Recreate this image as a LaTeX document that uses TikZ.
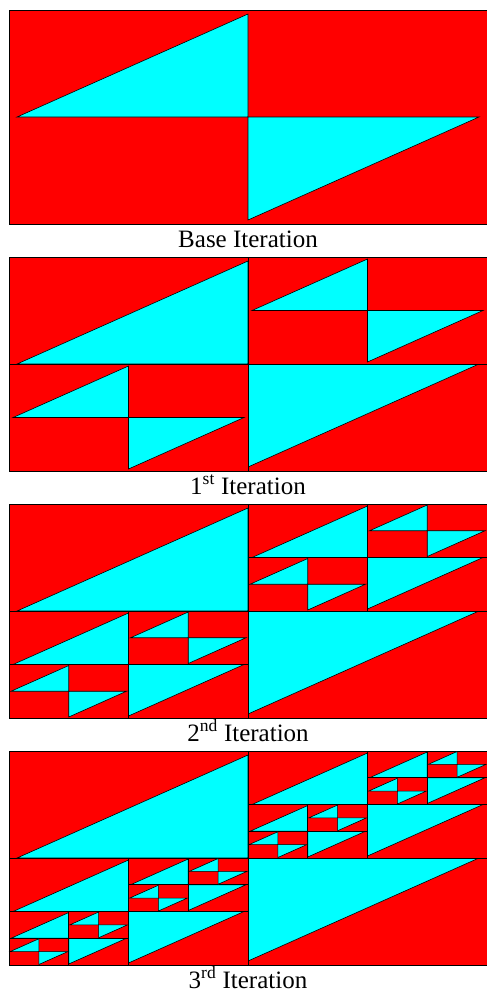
\documentclass[tikz,border=0pt]{standalone}
\usepackage{fontspec}
\setmainfont{Liberation Serif}
\usepackage{tikz}
\definecolor{tilered}{RGB}{255,0,0}
\definecolor{tilecyan}{RGB}{0,255,255}
\tikzset{
  cell/.style={fill=tilered, draw=black, line width=0.7pt},
  tri/.style={fill=tilecyan, draw=black, line width=0.6pt},
  lbl/.style={font=\rmfamily\fontsize{25}{30}\selectfont, inner sep=0pt, anchor=base, text=black},
}
% one tile: red box, two cyan triangles, two smaller tiles in the free quarters
\newcommand{\fractile}[1]{%
  \draw[cell] (0,0) rectangle (478,214);
  \draw[tri] (8,107) -- (239,4) -- (239,107) -- cycle;
  \draw[tri] (239,107) -- (470,107) -- (239,210) -- cycle;
  \ifnum#1>0
    \begin{scope}[shift={(239,0)},scale=.5]\fractile{\numexpr#1-1\relax}\end{scope}
    \begin{scope}[shift={(0,107)},scale=.5]\fractile{\numexpr#1-1\relax}\end{scope}
  \fi}

\begin{document}
\begin{tikzpicture}[x=1pt,y=-1pt]
  \useasboundingbox (0,0) rectangle (487,993);
  \foreach \k/\txt in {0/Base Iteration,1/1\textsuperscript{st} Iteration,2/2\textsuperscript{nd} Iteration,3/3\textsuperscript{rd} Iteration}{
    \begin{scope}[shift={(9,{10+247*\k})}]
      \fractile{\k}
    \end{scope}
    \node[lbl] (cap\k) at (248,{247+247*\k}) {\txt};
  }
\end{tikzpicture}
\end{document}
